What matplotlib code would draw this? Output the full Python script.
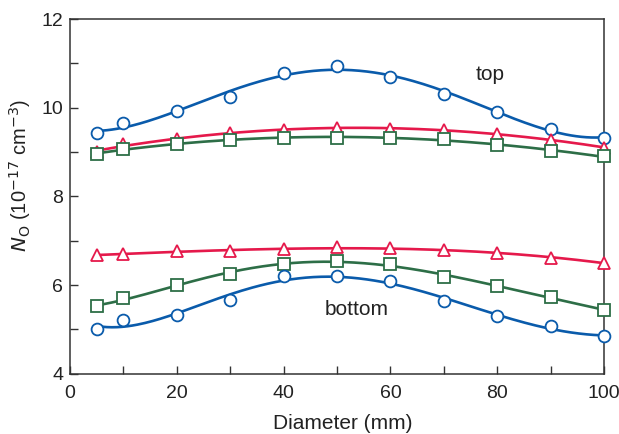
import numpy as np
import matplotlib.pyplot as plt
from matplotlib.ticker import MultipleLocator

plt.rcParams['font.family'] = ['Liberation Sans', 'DejaVu Sans']

# diameter positions (mm)
diam = [5, 10, 20, 30, 40, 50, 60, 70, 80, 90, 100]

# top of the crystal
top_circle = [9.42, 9.65, 9.93, 10.25, 10.78, 10.95, 10.70, 10.32, 9.90, 9.52, 9.32]
top_triangle = [9.00, 9.18, 9.30, 9.42, 9.50, 9.55, 9.53, 9.50, 9.40, 9.28, 9.10]
top_square = [8.95, 9.08, 9.18, 9.28, 9.32, 9.32, 9.32, 9.30, 9.17, 9.02, 8.90]

# bottom of the crystal
bot_circle = [5.00, 5.20, 5.33, 5.66, 6.20, 6.20, 6.08, 5.63, 5.30, 5.08, 4.84]
bot_triangle = [6.68, 6.70, 6.76, 6.76, 6.82, 6.85, 6.83, 6.78, 6.72, 6.62, 6.50]
bot_square = [5.52, 5.70, 5.99, 6.26, 6.47, 6.55, 6.47, 6.18, 5.97, 5.74, 5.43]

blue = '#0a5bab'
red = '#e5194b'
green = '#2d6e47'


def draw_series(ax, x, y, color, marker, deg):
	# smooth fitted curve plus open markers
	coef = np.polyfit(x, y, deg)
	xs = np.linspace(min(x), max(x), 200)
	ax.plot(xs, np.polyval(coef, xs), color=color, lw=1.9, zorder=2)
	ax.plot(x, y, linestyle='none', marker=marker, ms=8.5,
		mfc='white', mec=color, mew=1.3, zorder=3, clip_on=False)


fig = plt.figure(figsize=(6.19, 4.34), dpi=100)
ax = fig.add_axes([0.113, 0.139, 0.863, 0.817])

draw_series(ax, diam, top_circle, blue, 'o', 5)
draw_series(ax, diam, top_triangle, red, '^', 3)
draw_series(ax, diam, top_square, green, 's', 3)
draw_series(ax, diam, bot_triangle, red, '^', 3)
draw_series(ax, diam, bot_square, green, 's', 5)
draw_series(ax, diam, bot_circle, blue, 'o', 5)

ax.text(78.6, 10.76, 'top', fontsize=15, ha='center', va='center', color='#222222')
ax.text(53.7, 5.44, 'bottom', fontsize=15, ha='center', va='center', color='#222222')

ax.set_xlim(0, 100)
ax.set_ylim(4, 12)
ax.xaxis.set_major_locator(MultipleLocator(20))
ax.xaxis.set_minor_locator(MultipleLocator(10))
ax.yaxis.set_major_locator(MultipleLocator(2))
ax.yaxis.set_minor_locator(MultipleLocator(1))
ax.tick_params(which='both', direction='in', length=6, width=1, colors='#333333',
	labelsize=14, labelcolor='#222222', top=False, right=False, pad=5)
ax.tick_params(axis='x', which='both', pad=8)

for s in ax.spines.values():
	s.set_color('#333333')
	s.set_linewidth(1.1)

ax.set_xlabel('Diameter (mm)', fontsize=15, color='#222222', labelpad=7)
ax.set_ylabel(r'$N_\mathrm{O}$ (10$^{-17}$ cm$^{-3}$)', fontsize=14.5,
	color='#222222', labelpad=5)
ax.yaxis.set_label_coords(-0.07, 0.56)
ax.xaxis.set_label_coords(0.51, -0.115)

fig.savefig('out.png', dpi=100)
